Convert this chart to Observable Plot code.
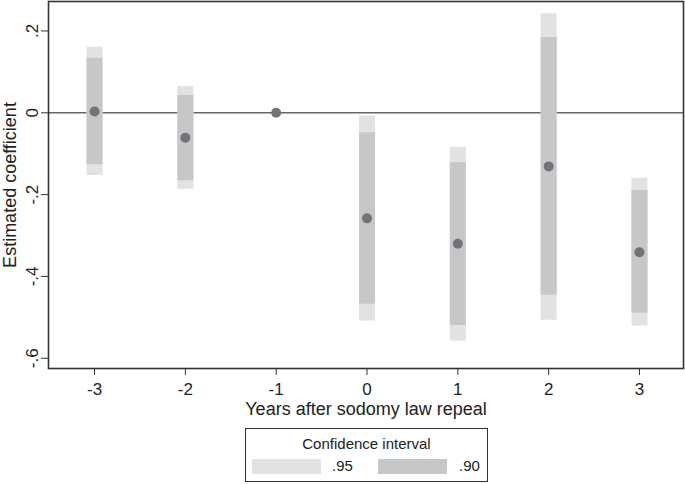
<!DOCTYPE html>
<html>
<head>
<meta charset="utf-8">
<script src="https://cdn.jsdelivr.net/npm/d3@7"></script>
<script src="https://cdn.jsdelivr.net/npm/@observablehq/plot@0.6"></script>
<style>
  html, body { margin: 0; padding: 0; background: #fff; }
  body { font-family: "Liberation Sans", Arial, sans-serif; width: 685px; height: 484px; position: relative; overflow: hidden; }
  #legend { position: absolute; left: 245px; top: 428px; width: 243px; height: 54px; border: 1.5px solid #333; box-sizing: border-box; color: #222; }
  #legend .title { position: absolute; left: 0; right: 0; top: 6px; text-align: center; font-size: 15px; line-height: 17px; }
  #legend .sw { position: absolute; top: 30px; width: 69px; height: 15px; }
  #legend .lab { position: absolute; top: 28px; font-size: 15px; line-height: 17px; }
</style>
</head>
<body>
<div id="chart"></div>
<div id="legend"></div>
<script>
const years = [-3, -2, -1, 0, 1, 2, 3];
const xTickLabels = ["-3", "-2", "-1", "0", "1", "2", "3"];
const estimate = [0.003, -0.061, 0, -0.258, -0.320, -0.131, -0.341];
const lo95 = [-0.153, -0.187, null, -0.509, -0.558, -0.507, -0.521];
const hi95 = [0.160, 0.064, null, -0.008, -0.084, 0.242, -0.160];
const lo90 = [-0.127, -0.166, null, -0.468, -0.520, -0.446, -0.490];
const hi90 = [0.133, 0.042, null, -0.049, -0.122, 0.184, -0.190];
const yTickValues = [0.2, 0, -0.2, -0.4, -0.6];
const yTickLabels = [".2", "0", "-.2", "-.4", "-.6"];
const legendLabels = [".95", ".90"];
const colors = ["#e1e2e4", "#c6c7c9"];

const data = years.map((x, i) => ({x, est: estimate[i], lo95: lo95[i], hi95: hi95[i], lo90: lo90[i], hi90: hi90[i]}));
const ci = data.filter(d => d.lo95 != null);

const chart = Plot.plot({
  width: 685,
  height: 424,
  marginLeft: 48,
  marginRight: 2,
  marginTop: 1,
  marginBottom: 56,
  style: {fontFamily: "Liberation Sans, Arial, sans-serif", fontSize: "17px", color: "#222"},
  x: {domain: [-3.507, 3.485]},
  y: {domain: [-0.625, 0.272]},
  marks: [
    Plot.ruleY([0], {stroke: "#666", strokeWidth: 1.5}),
    Plot.ruleX(ci, {x: "x", y1: "lo95", y2: "hi95", stroke: colors[0], strokeWidth: 16}),
    Plot.ruleX(ci, {x: "x", y1: "lo90", y2: "hi90", stroke: colors[1], strokeWidth: 16}),
    Plot.dot(data, {x: "x", y: "est", r: 5, fill: "#727377", stroke: "none"}),
    Plot.frame({stroke: "#333", strokeWidth: 1.6}),
    Plot.axisX({ticks: years, tickFormat: (d) => xTickLabels[years.indexOf(d)], tickSize: 7, tickPadding: 7, fontSize: 17, label: null, stroke: "#333"}),
    Plot.axisY({ticks: yTickValues, tickFormat: (d) => yTickLabels[yTickValues.indexOf(d)], tickRotate: -90, tickSize: 7, tickPadding: 4, fontSize: 17, label: null, stroke: "#333"}),
    Plot.text(["Years after sodomy law repeal"], {frameAnchor: "bottom", dy: 46, fontSize: 18, fill: "#222"}),
    Plot.text(["Estimated coefficient"], {frameAnchor: "left", textAnchor: "middle", dx: -38, rotate: -90, fontSize: 18, fill: "#222"})
  ]
});
document.getElementById("chart").appendChild(chart);

const lg = document.getElementById("legend");
lg.innerHTML = `<div class="title">Confidence interval</div>` +
  `<div class="sw" style="left:6px;background:${colors[0]}"></div><div class="lab" style="left:86px">${legendLabels[0]}</div>` +
  `<div class="sw" style="left:132px;background:${colors[1]}"></div><div class="lab" style="left:213px">${legendLabels[1]}</div>`;
</script>
</body>
</html>
